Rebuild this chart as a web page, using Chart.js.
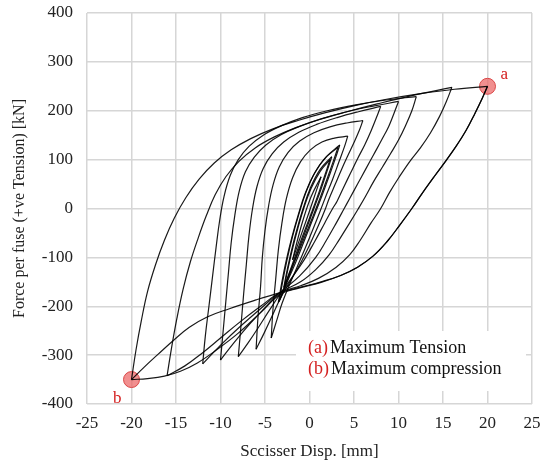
<!DOCTYPE html>
<html>
<head>
<meta charset="utf-8">
<script src="https://cdn.jsdelivr.net/npm/chart.js@4.4.1/dist/chart.umd.min.js"></script>
<style>
  html, body { margin: 0; padding: 0; background: #fff; }
  #wrap { width: 544px; height: 466px; }
</style>
</head>
<body>
<div id="wrap"><canvas id="c" width="544" height="466"></canvas></div>
<script>
// hysteresis branches, [disp mm, force kN]; U = unloading from tension peak, R = reloading from compression peak
var U20 = [[20,250],[19.4,225],[18.6,195],[17.6,160],[16.5,128],[15.3,97],[14,65],[12.7,32],[11.5,0],[10.1,-35],[8.7,-68],[7.1,-98],[5.4,-120],[3.5,-137],[1.3,-150],[-1,-161],[-3.3,-172],[-6,-187],[-9,-205],[-11.5,-222],[-13.5,-243],[-15.3,-270],[-17,-298],[-18.6,-325],[-20,-350]];
var U20b = [[20,250],[19.4,225],[18.6,195],[17.6,160],[16.5,128],[15.3,97],[14,65],[12.7,32],[11.5,0],[10.1,-35],[8.7,-68],[7.1,-98],[5.4,-120],[3.5,-137],[1.3,-151],[-1.2,-163],[-3.3,-176],[-5.5,-213],[-8,-255],[-10.5,-290],[-12.6,-316],[-14.5,-333],[-16.3,-343],[-18.2,-348],[-20,-350]];
var R20 = [[-20,-350],[-19.5,-290],[-18.9,-230],[-18.2,-170],[-17.3,-115],[-16.3,-65],[-15.2,-20],[-13.9,22],[-12.4,60],[-10.7,93],[-8.8,120],[-6.6,143],[-4.1,163],[-1.3,180],[1.8,196],[5.2,211],[8.8,224],[12.5,235],[16.3,244],[20,250]];
var U16 = [[16,248],[15.4,220],[14.6,188],[13.6,155],[12.5,125],[11.3,97],[10.1,65],[9,33],[8,0],[6.9,-30],[5.7,-65],[4.5,-95],[3,-120],[1,-143],[-1,-158],[-3.3,-172],[-5.5,-200],[-7.8,-232],[-10,-265],[-12,-295],[-14,-322],[-16,-342]];
var R16 = [[-16,-342],[-15.5,-285],[-14.9,-225],[-14.2,-165],[-13.4,-110],[-12.5,-60],[-11.6,-15],[-10.6,28],[-9.4,65],[-7.9,97],[-6.1,124],[-4,146],[-1.6,165],[1.1,182],[4.2,198],[7.6,214],[11.5,231],[16,248]];
var U12 = [[12,229],[11.5,200],[10.8,170],[10,140],[9.1,112],[8.2,85],[7.2,55],[6.3,25],[5.5,0],[4.5,-30],[3.4,-62],[2.2,-95],[0.7,-125],[-1,-150],[-3.3,-172],[-5.5,-205],[-7.7,-240],[-9.9,-278],[-12,-318]];
var R12 = [[-12,-318],[-11.7,-260],[-11.3,-200],[-10.9,-140],[-10.5,-80],[-10.1,-25],[-9.6,25],[-8.9,68],[-8,100],[-6.8,127],[-5.2,150],[-3.2,169],[-0.8,186],[2,200],[5.2,212],[8.6,222],[12,229]];
var U10 = [[10,219],[9.5,195],[8.9,168],[8.1,140],[7.2,110],[6.3,80],[5.4,50],[4.5,20],[3.9,0],[3,-30],[1.9,-65],[0.7,-100],[-1.1,-138],[-3.3,-172],[-5.1,-205],[-6.9,-240],[-8.5,-275],[-10,-310]];
var R10 = [[-10,-310],[-9.7,-250],[-9.4,-190],[-9.1,-130],[-8.8,-70],[-8.4,-15],[-7.9,35],[-7.2,75],[-6.2,105],[-4.9,130],[-3.2,151],[-1.1,168],[1.4,184],[4.2,198],[7,209],[10,219]];
var U8 = [[8,209],[7.5,185],[6.9,158],[6.2,130],[5.4,102],[4.6,72],[3.8,42],[3.1,15],[2.6,0],[1.7,-30],[0.6,-67],[-0.6,-105],[-2,-142],[-3.3,-175],[-4.5,-208],[-5.8,-245],[-6.9,-275],[-8,-303]];
var R8 = [[-8,-303],[-7.7,-240],[-7.4,-175],[-7.1,-115],[-6.8,-55],[-6.4,0],[-5.9,45],[-5.2,82],[-4.2,112],[-2.9,136],[-1.2,156],[0.8,172],[3.1,186],[5.5,198],[8,209]];
var U6 = [[6,180],[5.6,160],[5,135],[4.3,108],[3.6,80],[2.9,50],[2.2,20],[1.8,0],[1,-35],[0,-75],[-1.1,-115],[-2.2,-150],[-3.3,-185],[-4.2,-220],[-5.1,-255],[-6,-288]];
var R6 = [[-6,-288],[-5.8,-225],[-5.5,-160],[-5.3,-100],[-5,-45],[-4.6,5],[-4.1,48],[-3.4,85],[-2.4,115],[-1.1,138],[0.5,155],[2.3,167],[4.2,175],[6,180]];
var U4 = [[4.3,148],[3.9,125],[3.3,95],[2.6,60],[1.9,28],[1.2,-5],[0.4,-42],[-0.5,-82],[-1.4,-120],[-2.3,-158],[-3.1,-195],[-3.7,-230],[-4.3,-265]];
var R4 = [[-4.3,-265],[-4.1,-205],[-3.8,-145],[-3.5,-85],[-3.1,-30],[-2.6,20],[-1.9,63],[-1,96],[0.1,120],[1.4,136],[2.8,144],[4.3,148]];
var U3 = [[3.2,125],[2.7,98],[2,62],[1.2,22],[0.3,-20],[-0.7,-65],[-1.7,-110],[-2.6,-152],[-3.5,-192]];
var R3 = [[-3.5,-192],[-3.1,-150],[-2.6,-105],[-2,-60],[-1.3,-15],[-0.5,30],[0.5,70],[1.7,102],[3.2,125]];
var U3b = [[3.4,130],[2.9,102],[2.2,66],[1.4,26],[0.5,-16],[-0.5,-62],[-1.5,-108],[-2.5,-150],[-3.4,-190]];
var R3b = [[-3.4,-190],[-3,-148],[-2.5,-103],[-1.9,-57],[-1.2,-12],[-0.4,33],[0.6,73],[1.9,106],[3.4,130]];
var U2 = [[2.3,100],[1.8,72],[1.1,35],[0.3,-5],[-0.6,-48],[-1.5,-92],[-2.2,-128],[-2.8,-158]];
var R2 = [[-2.8,-158],[-2.4,-122],[-1.9,-82],[-1.3,-40],[-0.6,3],[0.2,42],[1.2,76],[2.3,100]];
var U2b = [[2.5,106],[2,78],[1.3,40],[0.5,0],[-0.4,-44],[-1.3,-88],[-2.1,-126],[-2.9,-162]];
var R2b = [[-2.9,-162],[-2.5,-125],[-2,-84],[-1.4,-42],[-0.7,1],[0.1,42],[1.2,80],[2.5,106]];
var U1 = [[1.3,65],[0.8,38],[0,-5],[-0.9,-52],[-1.9,-105]];
var R1 = [[-1.9,-105],[-1.4,-68],[-0.7,-22],[0.2,25],[1.3,65]];

var branches = [U1,R1,U2,R2,U2b,R2b,U3,R3,U3b,R3b,U4,R4,U6,R6,U8,R8,U10,R10,U12,R12,U16,R16,U20,U20b,R20];

// peak markers
var peakPoints = [[20,250],[-20,-350]];
var peakLabels = ['a','b'];

var xTicks = [-25,-20,-15,-10,-5,0,5,10,15,20,25];
var yTicks = [-400,-300,-200,-100,0,100,200,300,400];

var legendRows = [['(a)','Maximum Tension'],['(b)','Maximum compression']];

var serif = '"Liberation Serif", "Times New Roman", serif';

function toXY(arr) {
  return arr.map(function (p) { return {x: p[0], y: p[1]}; });
}

var datasets = branches.map(function (b) {
  return {
    data: toXY(b),
    showLine: true,
    borderColor: 'rgba(0,0,0,0.9)',
    borderWidth: 1.2,
    pointRadius: 0,
    tension: 0.4,
    fill: false
  };
});

datasets.push({
  data: toXY(peakPoints),
  showLine: false,
  pointRadius: 8,
  pointBackgroundColor: 'rgba(236,100,100,0.72)',
  pointBorderColor: 'rgba(215,60,60,0.9)',
  pointBorderWidth: 1
});

var annotate = {
  id: 'annotate',
  afterDraw: function (chart) {
    var ctx = chart.ctx, xs = chart.scales.x, ys = chart.scales.y;
    ctx.save();
    // peak letters
    ctx.fillStyle = '#d42020';
    ctx.font = '17px ' + serif;
    ctx.textBaseline = 'middle';
    ctx.textAlign = 'left';
    var ax = xs.getPixelForValue(peakPoints[0][0]), ay = ys.getPixelForValue(peakPoints[0][1]);
    ctx.fillText(peakLabels[0], ax + 13, ay - 12);
    var bx = xs.getPixelForValue(peakPoints[1][0]), by = ys.getPixelForValue(peakPoints[1][1]);
    ctx.textAlign = 'right';
    ctx.fillText(peakLabels[1], bx - 10, by + 19);

    // legend box
    ctx.fillStyle = '#fff';
    ctx.fillRect(296, 331, 230, 60);
    ctx.font = '18px ' + serif;
    ctx.textAlign = 'left';
    legendRows.forEach(function (r, i) {
      var y = 348 + i * 21.5;
      ctx.fillStyle = '#d42020';
      ctx.fillText(r[0], 308, y);
      var w = ctx.measureText(r[0]).width;
      ctx.fillStyle = '#111';
      ctx.fillText(r[1], 308 + w + 2, y);
    });
    ctx.restore();
  }
};

new Chart(document.getElementById('c'), {
  type: 'scatter',
  data: { datasets: datasets },
  options: {
    responsive: false,
    animation: false,
    layout: { padding: { top: 13, right: 12, left: 6, bottom: 0 } },
    plugins: { legend: { display: false }, tooltip: { enabled: false } },
    scales: {
      x: {
        min: -25, max: 25,
        afterBuildTicks: function (s) { s.ticks = xTicks.map(function (v) { return {value: v}; }); },
        afterFit: function (s) { s.height = 62; s.paddingLeft = 0; s.paddingRight = 0; },
        grid: { color: '#d6d6d6', lineWidth: 1.5, drawTicks: false },
        border: { display: false },
        ticks: { color: '#222', font: { family: serif, size: 17 }, padding: 9, maxRotation: 0 },
        title: { display: true, text: 'Sccisser Disp. [mm]', color: '#222', font: { family: serif, size: 17 }, padding: { top: 8 } }
      },
      y: {
        min: -400, max: 400,
        afterBuildTicks: function (s) { s.ticks = yTicks.map(function (v) { return {value: v}; }); },
        afterFit: function (s) { s.width = 81; s.paddingTop = 0; s.paddingBottom = 0; },
        grid: { color: '#d6d6d6', lineWidth: 1.5, drawTicks: false },
        border: { display: false },
        ticks: { color: '#222', font: { family: serif, size: 17 }, padding: 14 },
        title: { display: true, text: 'Force per fuse (+ve Tension) [kN]', color: '#222', font: { family: serif, size: 16 }, padding: { bottom: 2 } }
      }
    }
  },
  plugins: [annotate]
});
</script>
</body>
</html>
